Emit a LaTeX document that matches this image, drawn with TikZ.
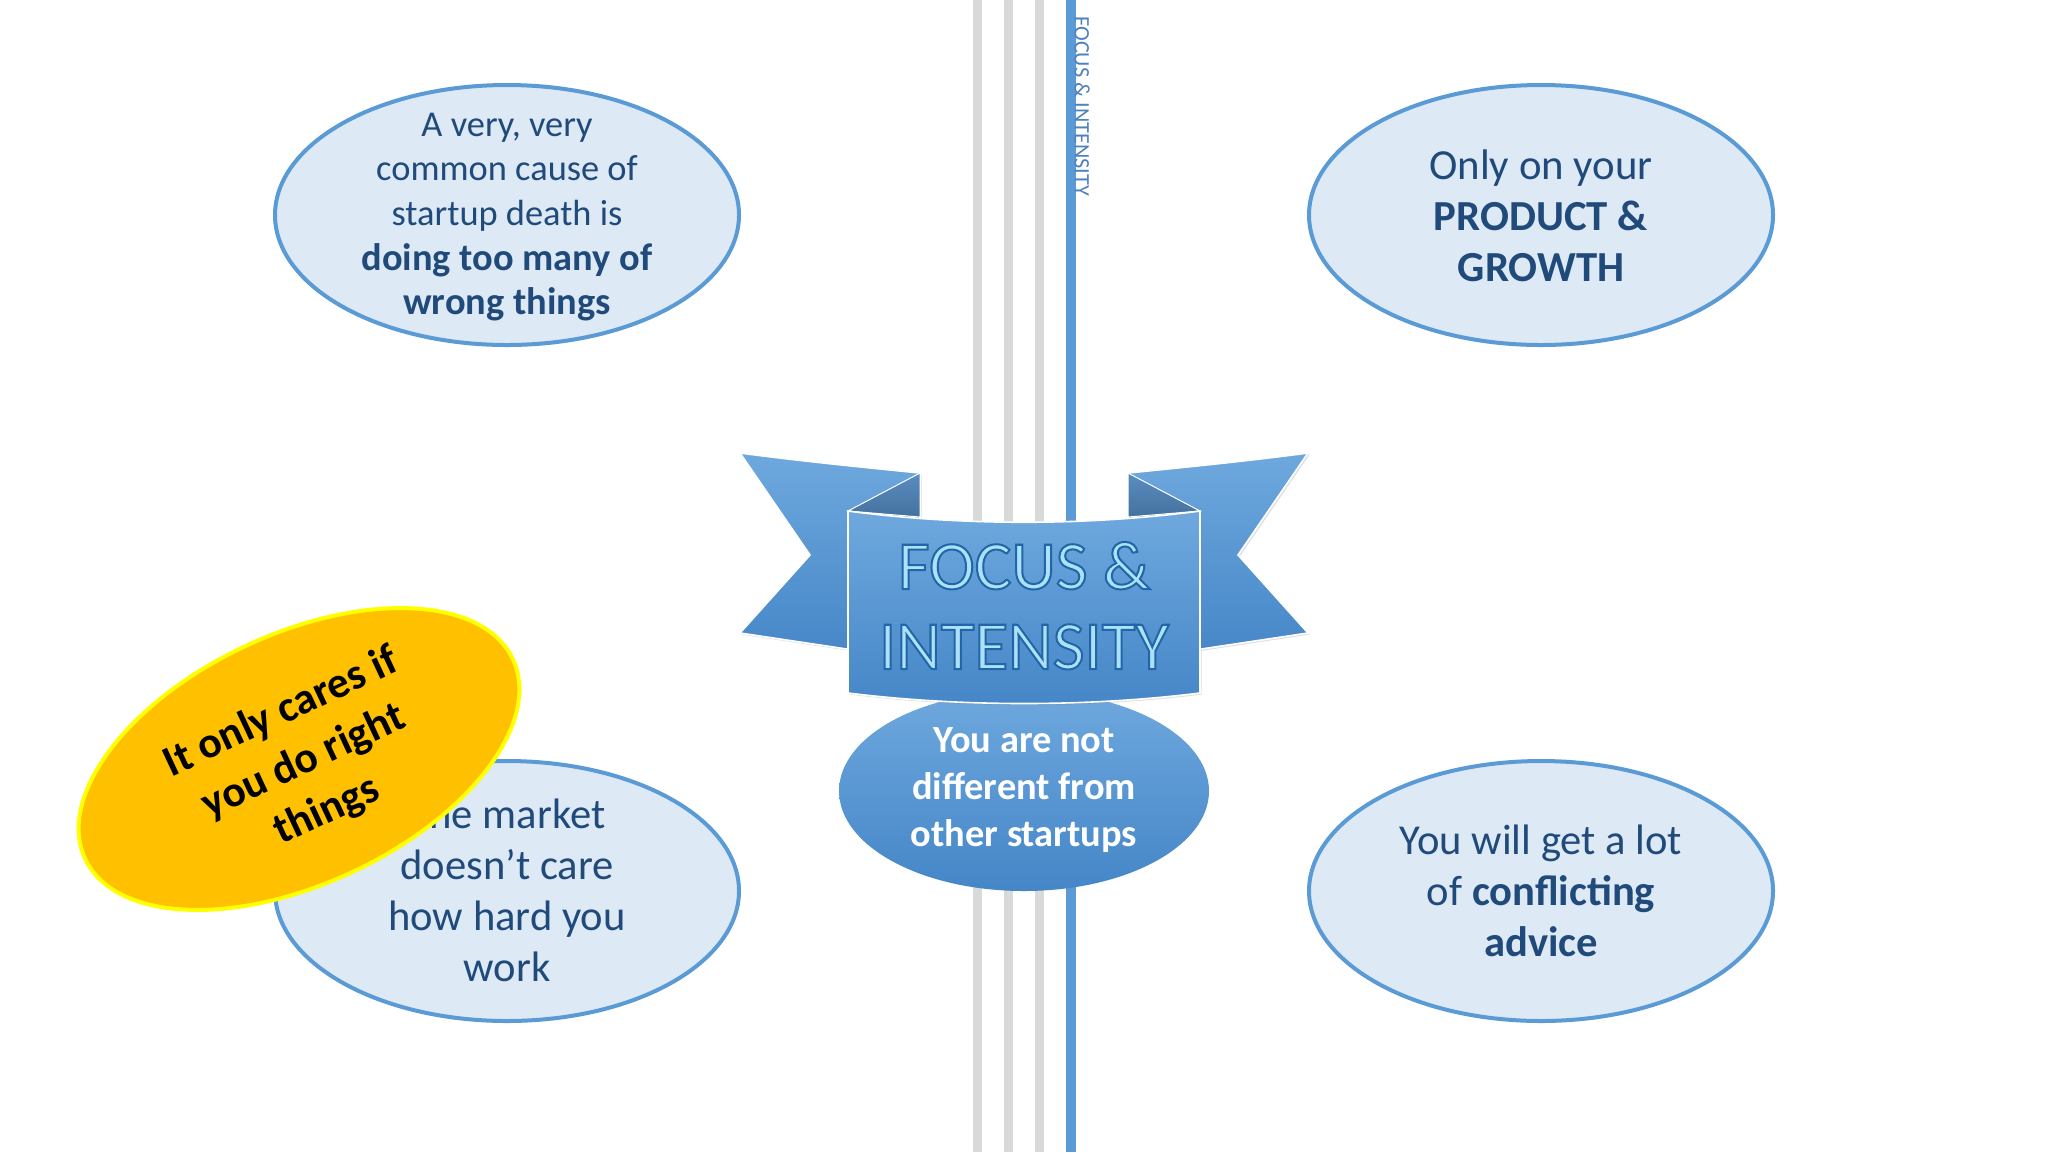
\documentclass[tikz,border=0pt]{standalone}
\usepackage{fontspec}
\setmainfont{Carlito}
\usetikzlibrary{shapes.geometric,shadows}
\definecolor{txtblue}{HTML}{1F4A7A}
\definecolor{bubblefill}{HTML}{DEE9F6}
\definecolor{bubbleline}{HTML}{5B9BD5}
\definecolor{graybar}{HTML}{D9D9D9}
\definecolor{bluebar}{HTML}{5B9BD5}
\definecolor{banlight}{HTML}{6EA8DE}
\definecolor{bandark}{HTML}{4586C7}
\definecolor{foldlight}{HTML}{5A8CC0}
\definecolor{folddark}{HTML}{44729F}
\definecolor{titlefill}{HTML}{ADE1F9}
\definecolor{goldfill}{HTML}{FFC000}
\definecolor{goldline}{HTML}{FFFF00}
\definecolor{vtext}{HTML}{4F81BD}
\newcommand\outlinedtext[1]{\special{pdf:literal direct 0.13 0.40 0.66 RG 1.0 w 2 Tr}#1\special{pdf:literal direct 0 Tr}}
\tikzset{
  graybarline/.style={draw=graybar, line width=4.75pt},
  bluebarline/.style={draw=bluebar, line width=5pt},
  bubble/.style={ellipse, draw=bubbleline, line width=2pt, fill=bubblefill,
    minimum width=232pt, minimum height=130pt, inner sep=0pt},
  btext/.style={align=center, text=txtblue, inner sep=0pt},
  wing/.style={top color=banlight, bottom color=bandark, draw=white, line width=0.8pt,
    drop shadow={opacity=0.25, shadow xshift=0.8pt, shadow yshift=-0.8pt}},
  foldpart/.style={top color=foldlight, bottom color=folddark, draw=white, line width=0.5pt},
  titlemain/.style={anchor=base, text=titlefill, inner sep=0pt, font=\fontsize{34.5}{38}\selectfont},
}
\begin{document}
\begin{tikzpicture}[x=0.5pt,y=-0.5pt]
\useasboundingbox (0,0) rectangle (2048,1152);
\fill[white] (0,0) rectangle (2048,1152);

% vertical bars
\coordinate (g1t) at (977.5,0);  \coordinate (g1b) at (977.5,1152);
\coordinate (g2t) at (1008.5,0); \coordinate (g2b) at (1008.5,1152);
\coordinate (g3t) at (1039.5,0); \coordinate (g3b) at (1039.5,1152);
\coordinate (b1t) at (1071,0);   \coordinate (b1b) at (1071,1152);
\draw[graybarline] (g1t) -- (g1b);
\draw[graybarline] (g2t) -- (g2b);
\draw[graybarline] (g3t) -- (g3b);
\draw[bluebarline] (b1t) -- (b1b);
\node[rotate=-90, anchor=west, inner sep=0pt, text=vtext, font=\fontsize{11.1}{13}\selectfont] (vt) at (1082,16) {FOCUS \& INTENSITY};

% bubbles
\node[bubble] (tl) at (507,215) {};
\node[btext, font=\fontsize{18.2}{22.3}\selectfont] (tlt) at (507,217)
  {A very, very\\common cause of\\startup death is\\{\bfseries\fontsize{19.2}{23.5}\selectfont doing too many of}\\{\bfseries\fontsize{19.2}{23.5}\selectfont wrong things}};
\node[bubble] (tr) at (1541,215) {};
\node[btext, font=\fontsize{21.4}{25.5}\selectfont] (trt) at (1541,216)
  {Only on your\\\textbf{PRODUCT \&}\\\textbf{GROWTH}};
\node[bubble] (bl) at (507,891) {};
\node[btext, font=\fontsize{21.3}{25.5}\selectfont] (blt) at (507,890)
  {The market\\doesn’t care\\how hard you\\work};
\node[bubble] (br) at (1541,891) {};
\node[btext, font=\fontsize{21.3}{25.5}\selectfont] (brt) at (1541,891)
  {You will get a lot\\of \textbf{conflicting}\\\textbf{advice}};

% gold bubble
\node[ellipse, rotate=25, minimum width=236pt, minimum height=125pt, inner sep=0pt,
  fill=goldfill, draw=goldline, line width=2pt] (gold) at (299,759) {};
\node[rotate=25, align=center, inner sep=0pt, font=\bfseries\fontsize{21.8}{27}\selectfont] (goldt) at (304,762)
  {It only cares if\\you do right\\things};

% central ellipse
\node[ellipse, minimum width=185pt, minimum height=100pt, inner sep=0pt,
  top color=banlight, bottom color=bandark] (ctr) at (1024,791) {};
\node[align=center, inner sep=0pt, text=white, font=\bfseries\fontsize{19.2}{23.4}\selectfont] (ctrt) at (1024,790)
  {You are not\\different from\\other startups};

% banner wings
\path[wing] (740,453) .. controls (800,461) and (860,467) .. (920,473) -- (920,660) -- (740,633) -- (810,555) -- cycle;
\path[wing] (1308,453) .. controls (1248,461) and (1188,467) .. (1128,473) -- (1128,660) -- (1308,633) -- (1238,555) -- cycle;
\path[foldpart] (920,473) -- (848,511) -- (920,517) -- cycle;
\path[foldpart] (1128,473) -- (1200,511) -- (1128,517) -- cycle;
% banner panel
\path[wing] (848,511) .. controls (960,526) and (1088,526) .. (1200,511) -- (1200,693)
  .. controls (1088,707) and (960,707) .. (848,693) -- cycle;

% title with outline
\node[titlemain] (focus) at (1024,589) {\outlinedtext{FOCUS \&}};
\node[titlemain] (intensity) at (1024,669) {\outlinedtext{INTENSITY}};
\end{tikzpicture}
\end{document}
